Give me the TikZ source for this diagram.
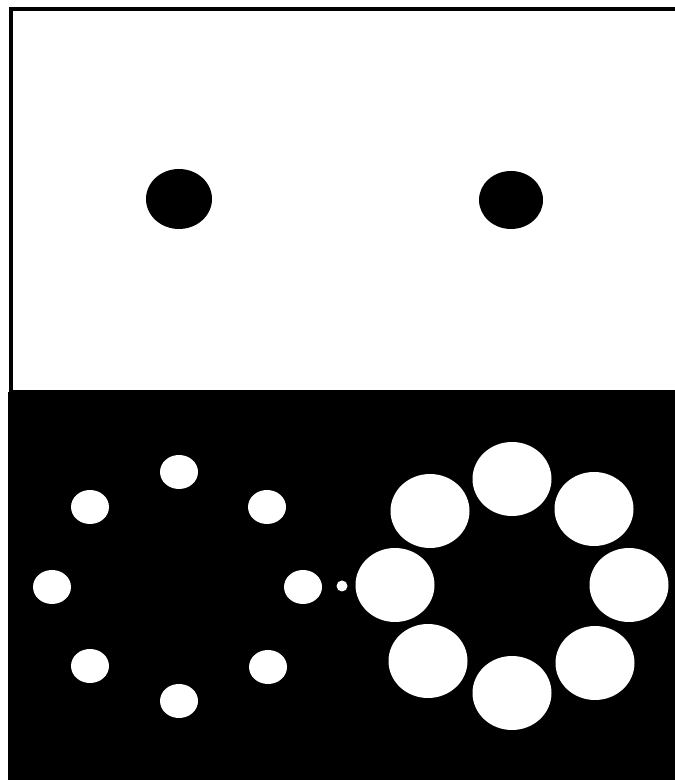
\documentclass[tikz,border=0pt]{standalone}
\usepackage{tikz}
\usetikzlibrary{positioning}

\begin{document}
\begin{tikzpicture}[x=0.02cm, y=0.02cm,
    frame/.style={draw=black, line width=2.6pt, fill=white},
    panel/.style={fill=black},
    target/.style={fill=black},
    inducer/.style={fill=white}
]
\useasboundingbox (0,0) rectangle (675,780);

% upper panel: two equal targets
\draw[frame] (11,388) rectangle (677,771);
\fill[target] (179,581) ellipse [x radius=33, y radius=30];
\fill[target] (511,580) ellipse [x radius=32, y radius=29];

% lower panel
\fill[panel] (8,0) rectangle (675,388);

% small inducers
\foreach \px/\py in {179/308, 90/273, 267/273, 52/193, 303/193, 90/114, 268/113, 179/79}
  \fill[inducer] (\px,\py) ellipse [x radius=19, y radius=17];

% large inducers
\foreach \px/\py in {512/301, 430/269, 594/271, 395/195, 629/195, 428/119, 595/117, 512/87}
  \fill[inducer] (\px,\py) ellipse [x radius=39.5, y radius=37];

% fixation dot
\fill[inducer] (342,194) circle [radius=5.5];

\end{tikzpicture}
\end{document}
